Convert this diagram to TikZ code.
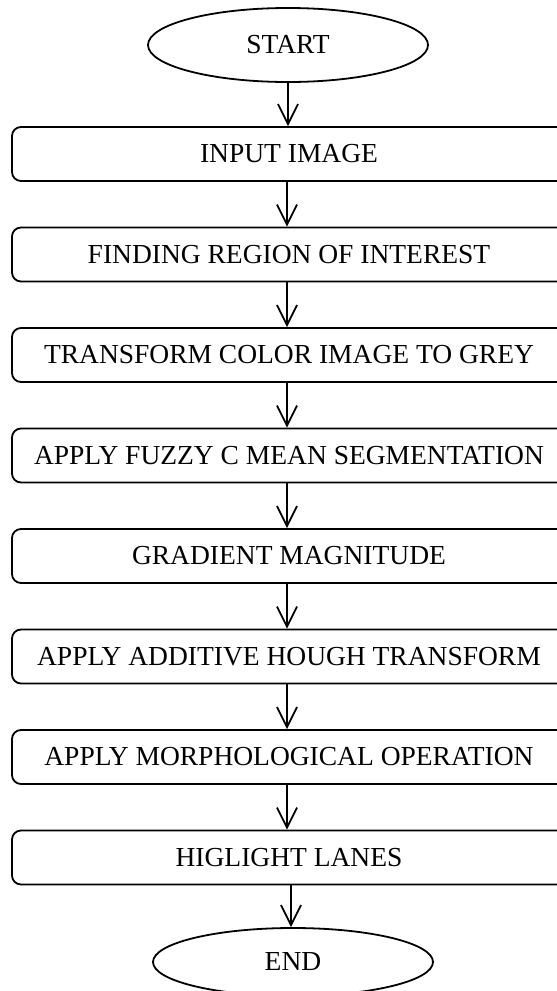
\documentclass[tikz,border=0pt]{standalone}
\usepackage{fontspec}
\setmainfont{Liberation Serif}
\usetikzlibrary{arrows.meta,positioning,shapes.geometric}

\begin{document}
\begin{tikzpicture}[x=1pt, y=-1pt,
  term/.style={ellipse, draw=black, line width=1.8pt, inner sep=0pt,
               minimum width=280pt, minimum height=74pt,
               font=\fontsize{27.5}{31}\selectfont},
  stepbox/.style={draw=black, line width=1.8pt, rounded corners=9pt,
                  minimum width=554pt, minimum height=54pt, inner sep=0pt,
                  font=\fontsize{27.5}{31}\selectfont},
  arr/.style={-{Straight Barb[length=20pt, width=20pt]}, line width=1.8pt}
]
  \clip (0,0) rectangle (557,991);

  \node[term] (start) at (288,45) {START};

  \node[stepbox] (input) at (289,154) {INPUT IMAGE};
  \node[stepbox] (roi) at (289,254.5) {FINDING REGION OF INTEREST};
  \node[stepbox] (grey) at (289,355) {TRANSFORM COLOR IMAGE TO GREY};
  \node[stepbox] (fcm) at (289,455.5) {APPLY FUZZY C MEAN SEGMENTATION};
  \node[stepbox] (grad) at (289,556) {GRADIENT MAGNITUDE};
  \node[stepbox] (hough) at (289,656.5) {APPLY ADDITIVE HOUGH TRANSFORM};
  \node[stepbox] (morph) at (289,757) {APPLY MORPHOLOGICAL OPERATION};
  \node[stepbox] (lanes) at (289,857.5) {HIGLIGHT LANES};

  \node[term, minimum height=68pt] (end) at (293,962) {END};

  \draw[arr] (start.south) -- (start.south |- input.north);
  \draw[arr] ([xshift=-2pt]input.south) -- ([xshift=-2pt]input.south |- roi.north);
  \draw[arr] ([xshift=-2pt]roi.south) -- ([xshift=-2pt]roi.south |- grey.north);
  \draw[arr] ([xshift=-2pt]grey.south) -- ([xshift=-2pt]grey.south |- fcm.north);
  \draw[arr] ([xshift=-2pt]fcm.south) -- ([xshift=-2pt]fcm.south |- grad.north);
  \draw[arr] ([xshift=-2pt]grad.south) -- ([xshift=-2pt]grad.south |- hough.north);
  \draw[arr] ([xshift=-2pt]hough.south) -- ([xshift=-2pt]hough.south |- morph.north);
  \draw[arr] ([xshift=-2pt]morph.south) -- ([xshift=-2pt]morph.south |- lanes.north);
  \draw[arr] ([xshift=2pt]lanes.south) -- ([xshift=2pt]lanes.south |- end.north);

\end{tikzpicture}
\end{document}
